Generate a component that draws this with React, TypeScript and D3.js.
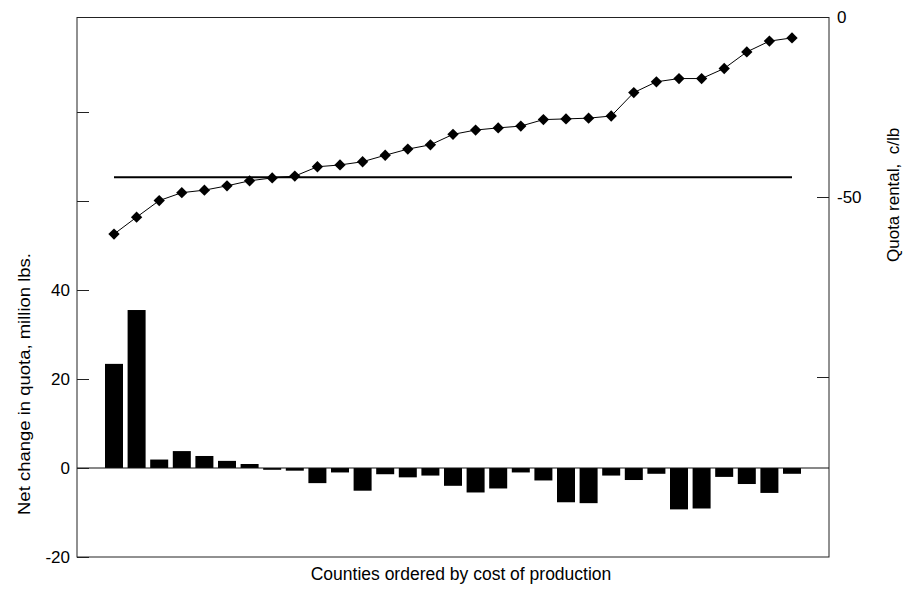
import React, { useEffect, useRef } from "react";
import * as d3 from "d3";

// net change in quota (million lbs.), counties ordered by cost of production
const quotaChange = [
  23.4, 35.5, 1.9, 3.8, 2.7, 1.6, 0.9, -0.4, -0.6, -3.4, -1.0, -5.1, -1.4, -2.1, -1.7, -4.0,
  -5.5, -4.6, -1.0, -2.8, -7.7, -7.9, -1.7, -2.7, -1.3, -9.3, -9.1, -2.0, -3.6, -5.6, -1.3,
];

// quota rental (c/lb)
const quotaRental = [
  -60.3, -55.6, -51.0, -48.8, -48.1, -46.9, -45.5, -44.7, -44.2, -41.6, -41.1, -40.2, -38.4, -36.7,
  -35.5, -32.6, -31.4, -30.8, -30.3, -28.5, -28.3, -28.1, -27.5, -21.0, -18.0, -17.1, -17.1, -14.3,
  -9.7, -6.7, -5.8,
];

const referenceRental = -44.5;

const leftTicks = [-20, 0, 20, 40, 60, 80];
const leftLabels = [-20, 0, 20, 40];
const rightTicks = [0, -50, -100];
const rightLabels = [0, -50];

const W = 906;
const H = 590;
const FONT = "'Liberation Sans', Arial, Helvetica, sans-serif";

export default function App() {
  const ref = useRef<SVGSVGElement>(null);

  useEffect(() => {
    const svg = d3.select(ref.current);
    svg.selectAll("*").remove();

    const left = 77, right = 829, top = 17.5, bottom = 557;

    const x = d3.scaleLinear().domain([0, quotaChange.length - 1]).range([114, 792]);
    const yL = d3.scaleLinear().domain([-20, 40]).range([557, 290]);
    const yR = d3.scaleLinear().domain([-150, 0]).range([557, 17]);
    const barW = 18;

    // frame
    svg.append("rect")
      .attr("x", left).attr("y", top)
      .attr("width", right - left).attr("height", bottom - top)
      .attr("fill", "none").attr("stroke", "#222").attr("stroke-width", 1);

    // bars
    svg.append("g").selectAll("rect")
      .data(quotaChange)
      .join("rect")
      .attr("x", (d, i) => x(i) - barW / 2)
      .attr("y", d => yL(Math.max(0, d)))
      .attr("width", barW)
      .attr("height", d => Math.abs(yL(d) - yL(0)))
      .attr("fill", "#000");

    // zero line
    svg.append("line")
      .attr("x1", left).attr("x2", right)
      .attr("y1", yL(0)).attr("y2", yL(0))
      .attr("stroke", "#111").attr("stroke-width", 1);

    // reference level of quota rental
    svg.append("line")
      .attr("x1", x(0)).attr("x2", x(quotaRental.length - 1))
      .attr("y1", yR(referenceRental)).attr("y2", yR(referenceRental))
      .attr("stroke", "#000").attr("stroke-width", 2);

    // rental line + diamonds
    const line = d3.line<number>().x((d, i) => x(i)).y(d => yR(d));
    svg.append("path")
      .datum(quotaRental)
      .attr("d", line)
      .attr("fill", "none").attr("stroke", "#000").attr("stroke-width", 1);

    const sym = d3.symbol().type(d3.symbolSquare).size(64);
    svg.append("g").selectAll("path")
      .data(quotaRental)
      .join("path")
      .attr("d", sym)
      .attr("transform", (d, i) => `translate(${x(i)},${yR(d)}) rotate(45)`)
      .attr("fill", "#000");

    // left axis
    const axL = svg.append("g")
      .attr("transform", `translate(${left},0)`)
      .call(d3.axisLeft(yL).tickValues(leftTicks).tickSize(-12).tickPadding(7)
        .tickFormat(d => (leftLabels.includes(+d) ? String(d) : "")));
    axL.select(".domain").remove();
    axL.selectAll("line").attr("stroke", "#222");
    axL.selectAll("text").attr("font-family", FONT).attr("font-size", 17).attr("fill", "#000");

    // right axis
    const axR = svg.append("g")
      .attr("transform", `translate(${right},0)`)
      .call(d3.axisRight(yR).tickValues(rightTicks).tickSize(-12).tickPadding(8)
        .tickFormat(d => (rightLabels.includes(+d) ? String(d) : "")));
    axR.select(".domain").remove();
    axR.selectAll("line").attr("stroke", "#222");
    axR.selectAll("text").attr("font-family", FONT).attr("font-size", 17).attr("fill", "#000");

    // axis titles
    svg.append("text")
      .attr("x", (left + right) / 2 + 8).attr("y", 580)
      .attr("text-anchor", "middle")
      .attr("font-family", FONT).attr("font-size", 17.5)
      .text("Counties ordered by cost of production");

    svg.append("text")
      .attr("transform", "translate(30,384) rotate(-90)")
      .attr("text-anchor", "middle")
      .attr("font-family", FONT).attr("font-size", 17)
      .attr("textLength", 262)
      .attr("lengthAdjust", "spacingAndGlyphs")
      .text("Net change in quota, million lbs.");

    svg.append("text")
      .attr("transform", "translate(899,262) rotate(-90)")
      .attr("text-anchor", "start")
      .attr("font-family", FONT).attr("font-size", 17)
      .style("white-space", "pre")
      .text("Quota rental,  c/lb");
  }, []);

  return (
    <svg
      ref={ref}
      width={W}
      height={H}
      style={{ position: "absolute", left: 0, top: 0, background: "#fff" }}
    />
  );
}
